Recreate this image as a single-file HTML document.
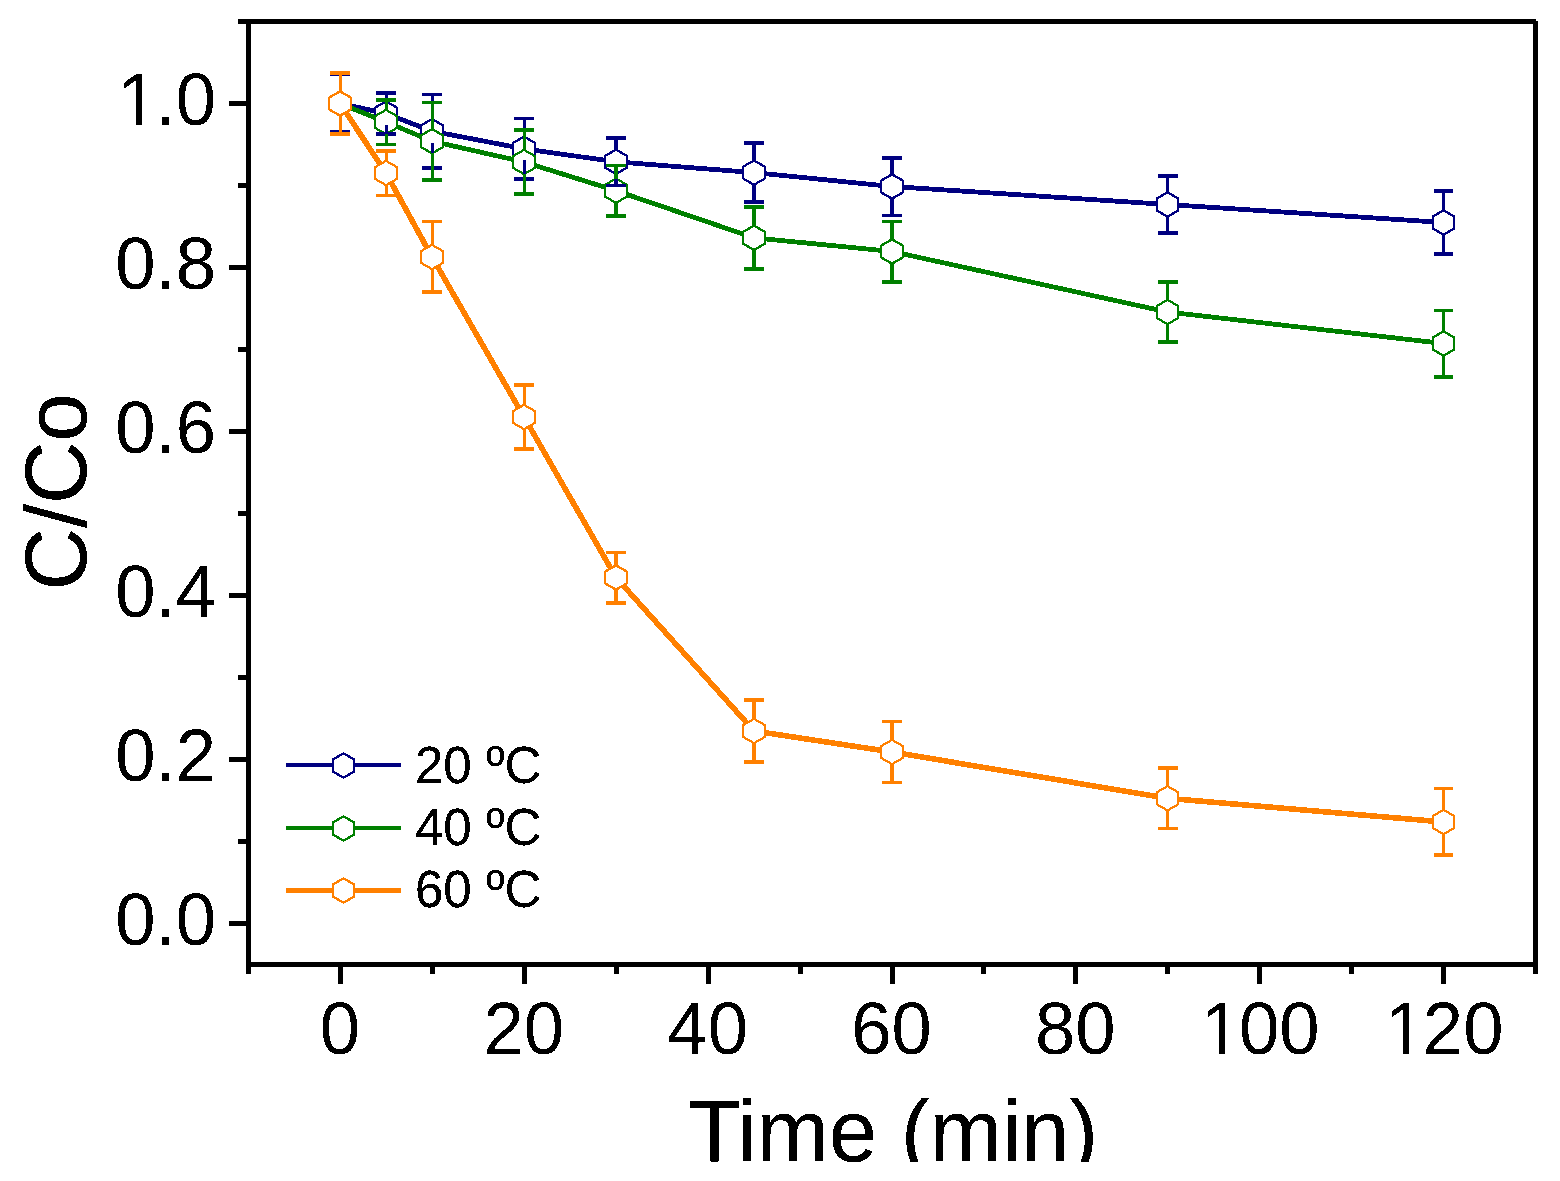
<!DOCTYPE html>
<html lang="en"><head><meta charset="utf-8"><title>C/Co vs Time</title>
<style>
html,body{margin:0;padding:0;background:#fff;}
body{width:1560px;height:1181px;overflow:hidden;}
svg{display:block;}
text{font-family:"Liberation Sans",Arial,Helvetica,sans-serif;fill:#000;}
.tk{font-size:72.5px;}
.ti{font-size:86.5px;}
.lg{font-size:51px;}
</style></head><body>
<svg width="1560" height="1181" viewBox="0 0 1560 1181" shape-rendering="crispEdges">
<defs><g id="hx" stroke="none"><polygon points="0,-13.51 11.7,-6.755 11.7,6.755 0,13.51 -11.7,6.755 -11.7,-6.755" fill="currentColor"/><polygon points="0,-10.85 9.7,-5.25 9.7,5.25 0,10.85 -9.7,5.25 -9.7,-5.25" fill="#fff"/></g>
<filter id="bw" x="0" y="0" width="1560" height="1181" filterUnits="userSpaceOnUse" color-interpolation-filters="sRGB"><feComponentTransfer><feFuncA type="discrete" tableValues="0 1 1"/></feComponentTransfer></filter>
<filter id="bw2" x="0" y="0" width="1560" height="1181" filterUnits="userSpaceOnUse" color-interpolation-filters="sRGB"><feComponentTransfer><feFuncA type="discrete" tableValues="0 1"/></feComponentTransfer></filter>
<clipPath id="cx"><rect x="600" y="1080" width="600" height="82"/></clipPath>
</defs>
<rect x="0" y="0" width="1560" height="1181" fill="#fff"/>
<g stroke="#000080" color="#000080">
<path d="M340.00,103.50 L386.00,113.50 L432.00,131.20 L524.00,148.80 L616.00,161.80 L754.00,172.60 L892.00,186.50 L1167.50,204.50 L1443.50,222.50" fill="none" stroke-width="4.8" stroke-linejoin="round"/>
<use href="#hx" x="340.00" y="103.50"/>
<use href="#hx" x="386.00" y="113.50"/>
<use href="#hx" x="432.00" y="131.20"/>
<use href="#hx" x="524.00" y="148.80"/>
<use href="#hx" x="616.00" y="161.80"/>
<use href="#hx" x="754.00" y="172.60"/>
<use href="#hx" x="892.00" y="186.50"/>
<use href="#hx" x="1167.50" y="204.50"/>
<use href="#hx" x="1443.50" y="222.50"/>
</g>
<g stroke="#008000" color="#008000">
<path d="M340.00,103.50 L386.00,122.00 L432.00,141.20 L524.00,162.00 L616.00,190.70 L754.00,237.80 L892.00,251.50 L1167.50,312.00 L1443.50,343.50" fill="none" stroke-width="4.8" stroke-linejoin="round"/>
<use href="#hx" x="340.00" y="103.50"/>
<use href="#hx" x="386.00" y="122.00"/>
<use href="#hx" x="432.00" y="141.20"/>
<use href="#hx" x="524.00" y="162.00"/>
<use href="#hx" x="616.00" y="190.70"/>
<use href="#hx" x="754.00" y="237.80"/>
<use href="#hx" x="892.00" y="251.50"/>
<use href="#hx" x="1167.50" y="312.00"/>
<use href="#hx" x="1443.50" y="343.50"/>
</g>
<g stroke="#ff8000" color="#ff8000">
<path d="M340.00,103.50 L386.00,173.00 L432.00,257.00 L524.00,417.00 L616.00,577.50 L754.00,731.00 L892.00,752.00 L1167.50,798.30 L1443.50,822.00" fill="none" stroke-width="5.6" stroke-linejoin="round"/>
<use href="#hx" x="340.00" y="103.50"/>
<use href="#hx" x="386.00" y="173.00"/>
<use href="#hx" x="432.00" y="257.00"/>
<use href="#hx" x="524.00" y="417.00"/>
<use href="#hx" x="616.00" y="577.50"/>
<use href="#hx" x="754.00" y="731.00"/>
<use href="#hx" x="892.00" y="752.00"/>
<use href="#hx" x="1167.50" y="798.30"/>
<use href="#hx" x="1443.50" y="822.00"/>
</g>
<g fill="#000080">
<rect x="330" y="72" width="20" height="4"/>
<rect x="330" y="130" width="20" height="4"/>
<rect x="339" y="76" width="3" height="16.00"/>
<rect x="339" y="115.00" width="3" height="15.00"/>
<rect x="376" y="91" width="20" height="4"/>
<rect x="376" y="132" width="20" height="4"/>
<rect x="385" y="95" width="3" height="7.00"/>
<rect x="385" y="125.00" width="3" height="7.00"/>
<rect x="422" y="93" width="20" height="3"/>
<rect x="422" y="166" width="20" height="4"/>
<rect x="431" y="96" width="3" height="23.70"/>
<rect x="431" y="142.70" width="3" height="23.30"/>
<rect x="514" y="117" width="20" height="3"/>
<rect x="514" y="177" width="20" height="4"/>
<rect x="523" y="120" width="3" height="17.30"/>
<rect x="523" y="160.30" width="3" height="16.70"/>
<rect x="606" y="136" width="20" height="4"/>
<rect x="606" y="184" width="20" height="3"/>
<rect x="614" y="140" width="4" height="10.30"/>
<rect x="614" y="173.30" width="4" height="10.70"/>
<rect x="744" y="141" width="20" height="4"/>
<rect x="744" y="200" width="20" height="4"/>
<rect x="752" y="145" width="4" height="16.10"/>
<rect x="752" y="184.10" width="4" height="15.90"/>
<rect x="882" y="156" width="20" height="4"/>
<rect x="882" y="214" width="20" height="3"/>
<rect x="890" y="160" width="4" height="15.00"/>
<rect x="890" y="198.00" width="4" height="16.00"/>
<rect x="1158" y="174" width="20" height="4"/>
<rect x="1158" y="231" width="20" height="4"/>
<rect x="1166" y="178" width="3" height="15.00"/>
<rect x="1166" y="216.00" width="3" height="15.00"/>
<rect x="1434" y="189" width="19" height="4"/>
<rect x="1434" y="252" width="19" height="4"/>
<rect x="1442" y="193" width="3" height="18.00"/>
<rect x="1442" y="234.00" width="3" height="18.00"/>
</g>
<g fill="#008000">
<rect x="330" y="72" width="20" height="3"/>
<rect x="330" y="132" width="20" height="3"/>
<rect x="339" y="75" width="3" height="17.00"/>
<rect x="339" y="115.00" width="3" height="17.00"/>
<rect x="376" y="98" width="20" height="4"/>
<rect x="376" y="143" width="20" height="3"/>
<rect x="385" y="102" width="3" height="8.50"/>
<rect x="385" y="133.50" width="3" height="9.50"/>
<rect x="422" y="101" width="20" height="3"/>
<rect x="422" y="178" width="20" height="4"/>
<rect x="431" y="104" width="3" height="25.70"/>
<rect x="431" y="152.70" width="3" height="25.30"/>
<rect x="514" y="128" width="20" height="4"/>
<rect x="514" y="192" width="20" height="4"/>
<rect x="523" y="132" width="3" height="18.50"/>
<rect x="523" y="173.50" width="3" height="18.50"/>
<rect x="606" y="164" width="20" height="3"/>
<rect x="606" y="214" width="20" height="4"/>
<rect x="614" y="167" width="4" height="12.20"/>
<rect x="614" y="202.20" width="4" height="11.80"/>
<rect x="744" y="205" width="20" height="4"/>
<rect x="744" y="267" width="20" height="4"/>
<rect x="752" y="209" width="4" height="17.30"/>
<rect x="752" y="249.30" width="4" height="17.70"/>
<rect x="882" y="220" width="20" height="3"/>
<rect x="882" y="280" width="20" height="4"/>
<rect x="890" y="223" width="4" height="17.00"/>
<rect x="890" y="263.00" width="4" height="17.00"/>
<rect x="1158" y="280" width="20" height="4"/>
<rect x="1158" y="340" width="20" height="4"/>
<rect x="1166" y="284" width="3" height="16.50"/>
<rect x="1166" y="323.50" width="3" height="16.50"/>
<rect x="1434" y="309" width="19" height="3"/>
<rect x="1434" y="375" width="19" height="4"/>
<rect x="1442" y="312" width="3" height="20.00"/>
<rect x="1442" y="355.00" width="3" height="20.00"/>
</g>
<g fill="#ff8000">
<rect x="330" y="71" width="20" height="4"/>
<rect x="330" y="132" width="20" height="4"/>
<rect x="339" y="75" width="3" height="17.00"/>
<rect x="339" y="115.00" width="3" height="17.00"/>
<rect x="376" y="149" width="20" height="4"/>
<rect x="376" y="194" width="20" height="3"/>
<rect x="385" y="153" width="3" height="8.50"/>
<rect x="385" y="184.50" width="3" height="9.50"/>
<rect x="422" y="220" width="20" height="3"/>
<rect x="422" y="290" width="20" height="4"/>
<rect x="431" y="223" width="3" height="22.50"/>
<rect x="431" y="268.50" width="3" height="21.50"/>
<rect x="514" y="383" width="20" height="4"/>
<rect x="514" y="447" width="20" height="4"/>
<rect x="523" y="387" width="3" height="18.50"/>
<rect x="523" y="428.50" width="3" height="18.50"/>
<rect x="606" y="551" width="20" height="3"/>
<rect x="606" y="601" width="20" height="4"/>
<rect x="614" y="554" width="4" height="12.00"/>
<rect x="614" y="589.00" width="4" height="12.00"/>
<rect x="744" y="698" width="20" height="4"/>
<rect x="744" y="760" width="20" height="4"/>
<rect x="752" y="702" width="4" height="17.50"/>
<rect x="752" y="742.50" width="4" height="17.50"/>
<rect x="882" y="720" width="20" height="3"/>
<rect x="882" y="781" width="20" height="3"/>
<rect x="890" y="723" width="4" height="17.50"/>
<rect x="890" y="763.50" width="4" height="17.50"/>
<rect x="1158" y="766" width="20" height="4"/>
<rect x="1158" y="827" width="20" height="3"/>
<rect x="1166" y="770" width="3" height="16.80"/>
<rect x="1166" y="809.80" width="3" height="17.20"/>
<rect x="1434" y="787" width="19" height="3"/>
<rect x="1434" y="853" width="19" height="4"/>
<rect x="1442" y="790" width="3" height="20.50"/>
<rect x="1442" y="833.50" width="3" height="19.50"/>
</g>
<g fill="#000">
<rect x="238" y="19" width="1298" height="5"/>
<rect x="246" y="19" width="5" height="955"/>
<rect x="1533" y="21" width="5" height="953"/>
<rect x="246" y="962" width="1292" height="5"/>
<rect x="229" y="921" width="17" height="5"/>
<rect x="238" y="839" width="8" height="5"/>
<rect x="229" y="757" width="17" height="5"/>
<rect x="238" y="675" width="8" height="5"/>
<rect x="229" y="593" width="17" height="5"/>
<rect x="238" y="511" width="8" height="5"/>
<rect x="229" y="429" width="17" height="5"/>
<rect x="238" y="347" width="8" height="5"/>
<rect x="229" y="265" width="17" height="5"/>
<rect x="238" y="183" width="8" height="5"/>
<rect x="229" y="101" width="17" height="5"/>
<rect x="338" y="967" width="5" height="17"/>
<rect x="430" y="967" width="5" height="7"/>
<rect x="522" y="967" width="5" height="17"/>
<rect x="614" y="967" width="5" height="7"/>
<rect x="706" y="967" width="5" height="17"/>
<rect x="798" y="967" width="5" height="7"/>
<rect x="890" y="967" width="5" height="17"/>
<rect x="981" y="967" width="5" height="7"/>
<rect x="1073" y="967" width="5" height="17"/>
<rect x="1165" y="967" width="5" height="7"/>
<rect x="1257" y="967" width="5" height="17"/>
<rect x="1349" y="967" width="5" height="7"/>
<rect x="1441" y="967" width="5" height="17"/>
</g>
<rect x="286" y="763" width="115" height="4" fill="#000080"/>
<use href="#hx" x="343.5" y="765.5" color="#000080"/>
<rect x="286" y="826" width="115" height="4" fill="#008000"/>
<use href="#hx" x="343.5" y="828.5" color="#008000"/>
<rect x="286" y="888" width="115" height="5" fill="#ff8000"/>
<use href="#hx" x="343.5" y="890.5" color="#ff8000"/>
<g class="tk" filter="url(#bw2)">
<text transform="translate(0,945.0) scale(1,1.03)" x="115.22 155.54 175.68" y="0">0.0</text>
<text transform="translate(0,781.0) scale(1,1.03)" x="115.22 155.54 175.68" y="0">0.2</text>
<text transform="translate(0,617.0) scale(1,1.03)" x="115.22 155.54 175.68" y="0">0.4</text>
<text transform="translate(0,453.0) scale(1,1.03)" x="115.22 155.54 175.68" y="0">0.6</text>
<text transform="translate(0,289.0) scale(1,1.03)" x="115.22 155.54 175.68" y="0">0.8</text>
<text transform="translate(0,125.0) scale(1,1.03)" x="117.42 155.54 175.68" y="0">1.0</text>
<text transform="translate(0,1054) scale(1,1.03)" x="319.84" y="0">0</text>
<text transform="translate(0,1054) scale(1,1.03)" x="483.51 523.83" y="0">20</text>
<text transform="translate(0,1054) scale(1,1.03)" x="667.34 707.67" y="0">40</text>
<text transform="translate(0,1054) scale(1,1.03)" x="851.18 891.50" y="0">60</text>
<text transform="translate(0,1054) scale(1,1.03)" x="1035.01 1075.33" y="0">80</text>
<text transform="translate(0,1054) scale(1,1.03)" x="1200.88 1239.00 1279.33" y="0">100</text>
<text transform="translate(0,1054) scale(1,1.03)" x="1384.72 1422.84 1463.16" y="0">120</text>
</g>
<g filter="url(#bw)">
<g clip-path="url(#cx)"><text class="ti" text-anchor="middle" x="893" y="1161">Time (min)</text></g>
<text class="ti" text-anchor="middle" transform="translate(86,492) rotate(-90)">C/Co</text>
<text class="lg" transform="translate(0,783) scale(1,1.03)" x="415" y="0">20 ºC</text>
<text class="lg" transform="translate(0,845) scale(1,1.03)" x="415" y="0">40 ºC</text>
<text class="lg" transform="translate(0,907) scale(1,1.03)" x="415" y="0">60 ºC</text>
</g>
<g fill="#fff">
<rect x="122" y="119" width="14" height="7"/>
<rect x="142" y="119" width="13" height="7"/>
<rect x="1205" y="1048" width="14" height="7"/>
<rect x="1225" y="1048" width="14" height="7"/>
<rect x="1389" y="1048" width="14" height="7"/>
<rect x="1409" y="1048" width="14" height="7"/>
</g>
</svg>
</body></html>
